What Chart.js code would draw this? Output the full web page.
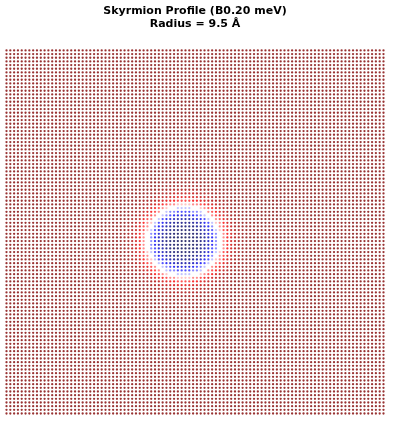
<!DOCTYPE html>
<html>
<head>
<meta charset="utf-8">
<script src="https://cdn.jsdelivr.net/npm/chart.js@4/dist/chart.umd.min.js"></script>
<style>
  html, body { margin: 0; padding: 0; background: #ffffff; }
  #wrap { width: 400px; height: 432px; }
</style>
</head>
<body>
<div id="wrap"><canvas id="c" width="400" height="432"></canvas></div>
<script>
// Lattice site indices (square lattice, 100 x 100)
const xSites = Array.from({length: 100}, (_, i) => i);
const ySites = Array.from({length: 100}, (_, i) => i);

// Skyrmion centre (lattice units)
const centreX = [46.5];
const centreY = [47.0];

// Radial profile of m_z (radius in lattice units, step 0.5)
const profileR  = [0,0.5,1,1.5,2,2.5,3,3.5,4,4.5,5,5.5,6,6.5,7,7.5,8,8.5,9,9.5,10,10.5,11,11.5,12,12.5,13,13.5,14,14.5,15,15.5,16,16.5,17,17.5,18,18.5,19,19.5,20,20.5,21,21.5,22];
const profileMz = [-1,-0.999,-0.997,-0.992,-0.987,-0.978,-0.967,-0.951,-0.932,-0.905,-0.874,-0.83,-0.777,-0.708,-0.628,-0.527,-0.416,-0.285,-0.147,0,0.146,0.283,0.413,0.523,0.621,0.698,0.765,0.816,0.859,0.89,0.916,0.935,0.95,0.962,0.971,0.977,0.983,0.986,0.99,0.992,0.994,0.995,0.997,0.997,0.998];
const farMz = [1];

const titleLines = ['Skyrmion Profile (B0.20 meV)', 'Radius = 9.5 Å'];

// seismic colormap
const seismic = [[0,0,0.3],[0,0,1],[1,1,1],[1,0,0],[0.5,0,0]];
function cmap(v) {
  let t = (v + 1) / 2;
  t = Math.max(0, Math.min(1, t));
  const p = t * 4;
  const i = Math.min(3, Math.floor(p));
  const f = p - i;
  const a = seismic[i], b = seismic[i + 1];
  const r = Math.round(255 * (a[0] + (b[0] - a[0]) * f));
  const g = Math.round(255 * (a[1] + (b[1] - a[1]) * f));
  const bl = Math.round(255 * (a[2] + (b[2] - a[2]) * f));
  return `rgba(${r},${g},${bl},0.8)`;
}
function mzAt(d) {
  const k = Math.round(d * 2);
  return k < profileMz.length ? profileMz[k] : farMz[0];
}

const pts = [];
const cols = [];
for (const y of ySites) {
  for (const x of xSites) {
    const d = Math.hypot(x - centreX[0], y - centreY[0]);
    pts.push({x: x, y: y});
    cols.push(cmap(mzAt(d)));
  }
}

new Chart(document.getElementById('c'), {
  type: 'scatter',
  data: {
    datasets: [{
      data: pts,
      backgroundColor: cols,
      borderWidth: 0,
      pointRadius: 1.15,
      pointHoverRadius: 1.15,
      clip: false
    }]
  },
  options: {
    responsive: false,
    animation: false,
    events: [],
    layout: { padding: { left: 6.5, right: 16.5, top: 0, bottom: 18.5 } },
    scales: {
      x: { type: 'linear', min: 0, max: 99, display: false },
      y: { type: 'linear', min: 0, max: 99, display: false }
    },
    plugins: {
      legend: { display: false },
      tooltip: { enabled: false },
      title: {
        display: true,
        text: titleLines,
        color: '#000000',
        font: { family: 'DejaVu Sans', size: 11, weight: 'bold', lineHeight: 1.2 },
        padding: { top: 4.5, bottom: 19.5 }
      }
    }
  }
});
</script>
</body>
</html>
